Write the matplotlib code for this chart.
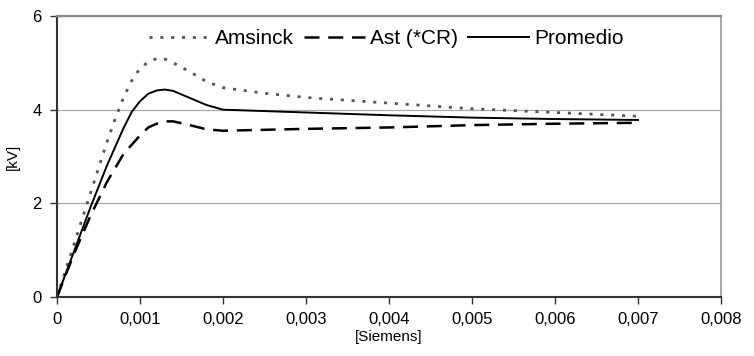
import matplotlib
matplotlib.use("Agg")
import matplotlib.pyplot as plt
from matplotlib.ticker import FuncFormatter, MultipleLocator

plt.rcParams['font.family'] = ['Liberation Sans', 'DejaVu Sans']

# Conductance [S] vs voltage [kV]
x_amsinck = [0, 0.0002, 0.0004, 0.0006, 0.0007, 0.0008, 0.0009, 0.001, 0.0011, 0.0012,
             0.0013, 0.0014, 0.0016, 0.0018, 0.002, 0.0025, 0.003, 0.004, 0.005, 0.006, 0.007]
kv_amsinck = [0, 1.1, 2.2, 3.3, 3.8, 4.25, 4.62, 4.88, 5.02, 5.09,
              5.08, 5.0, 4.81, 4.6, 4.47, 4.35, 4.26, 4.14, 4.02, 3.94, 3.86]

x_ast = [0, 0.0002, 0.0004, 0.0006, 0.0008, 0.0009, 0.001, 0.0011, 0.0012, 0.0013,
         0.0014, 0.0016, 0.0018, 0.002, 0.003, 0.004, 0.005, 0.006, 0.007]
kv_ast = [0, 0.9, 1.72, 2.45, 3.05, 3.25, 3.45, 3.62, 3.7, 3.75,
          3.75, 3.67, 3.58, 3.55, 3.59, 3.62, 3.67, 3.70, 3.72]

x_prom = [0, 0.0002, 0.0004, 0.0006, 0.0008, 0.0009, 0.001, 0.0011, 0.0012, 0.0013,
          0.0014, 0.0016, 0.0018, 0.002, 0.003, 0.004, 0.005, 0.006, 0.007]
kv_prom = [0, 0.95, 1.9, 2.8, 3.6, 3.95, 4.18, 4.34, 4.41, 4.43,
           4.4, 4.25, 4.1, 4.0, 3.94, 3.88, 3.83, 3.8, 3.78]

fig = plt.figure(figsize=(7.54, 3.56), dpi=100)
ax = fig.add_axes([57 / 754, 59 / 356, 664 / 754, 281 / 356])

ax.plot(x_amsinck, kv_amsinck, color='#555555', lw=2, linestyle=(0, (1.1, 2.8)), label='Amsinck')
ax.plot(x_ast, kv_ast, color='black', lw=1.8, linestyle=(0, (6, 3.5)), label='Ast (*CR)')
ax.plot(x_prom, kv_prom, color='black', lw=1.4, label='Promedio')

ax.set_xlim(0, 0.008)
ax.set_ylim(0, 6)
ax.xaxis.set_major_locator(MultipleLocator(0.001))
ax.yaxis.set_major_locator(MultipleLocator(2))
ax.xaxis.set_major_formatter(FuncFormatter(lambda v, p: '0' if v == 0 else f'{v:.3f}'.replace('.', ',')))
ax.yaxis.set_major_formatter(FuncFormatter(lambda v, p: f'{v:.0f}'))
ax.tick_params(direction='out', length=5, width=1, colors='#333333', labelsize=12, labelcolor='black', pad=6)

ax.grid(axis='y', color='#aaaaaa', lw=0.9)
ax.set_axisbelow(True)
for side in ('left', 'bottom'):
    ax.spines[side].set_color('#333333')
    ax.spines[side].set_linewidth(1.5)
ax.spines['top'].set_color('#888888')
ax.spines['top'].set_linewidth(1.6)
ax.spines['right'].set_color('#999999')
ax.spines['right'].set_linewidth(1.2)

ax.set_xlabel('[Siemens]', fontsize=11, labelpad=2)
ax.set_ylabel('[kV]', fontsize=11, labelpad=9)

ax.legend(loc='center', bbox_to_anchor=(0.496, 0.92), ncol=3, frameon=False, fontsize=15,
          handlelength=2.9, handletextpad=0.25, columnspacing=0.5, borderpad=0)

fig.savefig('out.png', dpi=100)
